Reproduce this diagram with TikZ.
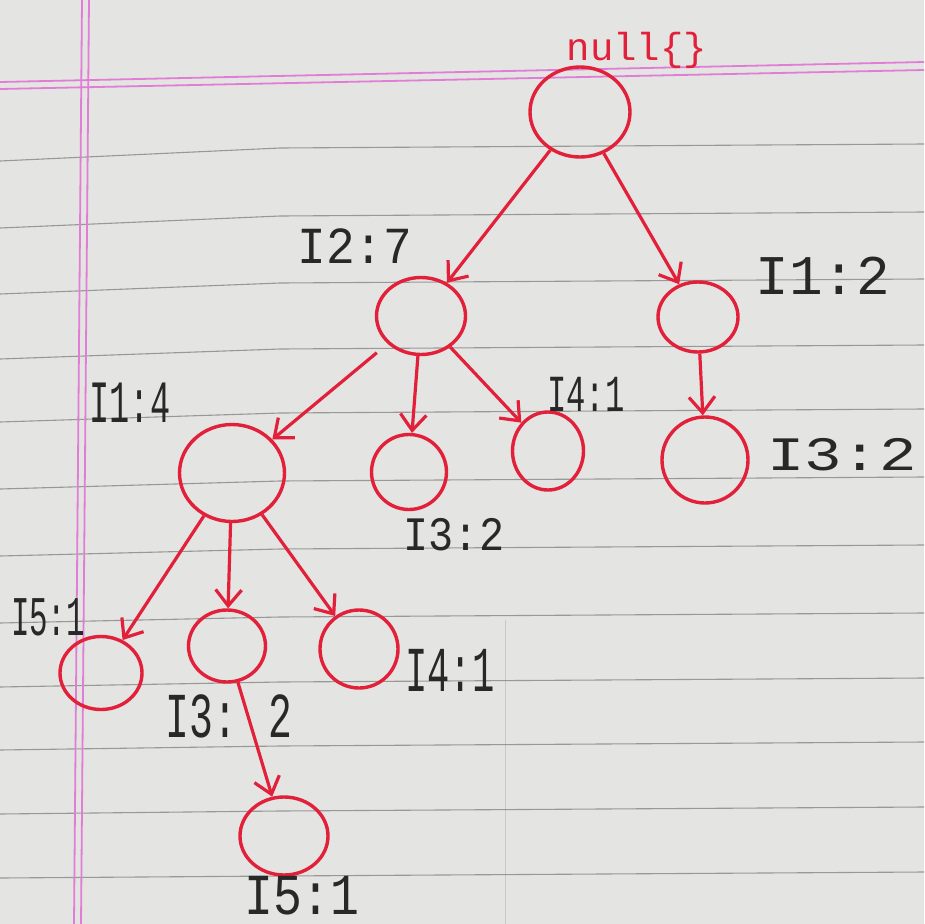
\documentclass[tikz,border=0pt]{standalone}
\usepackage{fontspec}
\newfontfamily\handfont{Liberation Mono}
\usetikzlibrary{shapes.geometric,arrows.meta}
\definecolor{paper}{RGB}{228,228,226}
\definecolor{ink}{RGB}{226,32,58}
\definecolor{pencil}{RGB}{40,40,40}
\definecolor{rulegray}{RGB}{120,120,120}
\definecolor{margin}{RGB}{226,125,215}
\newcommand\handscale[2]{\scalebox{#1}[1]{#2}}
\begin{document}
\begin{tikzpicture}[x=1pt,y=-1pt,
  tnode/.style={ellipse,draw=ink,line width=3.4pt,inner sep=0pt},
  edge/.style={draw=ink,line width=3.2pt,-{Straight Barb[length=16pt,width=26pt]}},
  lbl/.style={text=pencil,inner sep=0pt,font=\handfont\fontsize{#1}{#1}\selectfont},
  ruled/.style={draw=rulegray,line width=1.1pt,opacity=.7},
  pinkline/.style={draw=margin,line width=1.8pt}]
\useasboundingbox (0,0) rectangle (924,924);
\fill[paper] (0,0) rectangle (924,924);
% ruled lines
\foreach \y/\d in {147/14,215/13,282/12,348/11,412/10,480/9,548/8,616/7,681/6,745/5,810/4,875/3}
  \draw[ruled] (0,\y+\d) -- (280,\y+1) -- (924,\y-3);
\draw[draw=rulegray,line width=1pt,opacity=.25] (505,620) -- (505,924);
% margin lines
\draw[pinkline] (0,82) -- (924,62);
\draw[pinkline] (0,89) -- (924,70);
\draw[pinkline] (82,0) -- (74,924);
\draw[pinkline] (89,0) -- (81,924);
% tree nodes
\node[tnode,minimum width=100pt,minimum height=90pt] (root) at (580,112) {};
\node[tnode,minimum width=89pt,minimum height=77pt] (a27) at (421,316) {};
\node[tnode,minimum width=80pt,minimum height=70pt] (b12) at (698,317) {};
\node[tnode,minimum width=86pt,minimum height=86pt] (b32) at (705,460) {};
\node[tnode,minimum width=105pt,minimum height=97pt] (a14) at (232,473) {};
\node[tnode,minimum width=75pt,minimum height=75pt] (a32) at (409,472) {};
\node[tnode,minimum width=71pt,minimum height=78pt] (a41) at (548,451) {};
\node[tnode,minimum width=82pt,minimum height=73pt] (c51) at (101,673) {};
\node[tnode,minimum width=77pt,minimum height=72pt] (c32) at (227,646) {};
\node[tnode,minimum width=78pt,minimum height=78pt] (c41) at (359,649) {};
\node[tnode,minimum width=88pt,minimum height=78pt] (d51) at (284,836) {};
% labels
\node[lbl=39,text=ink] (lnull) at (637,50) {null\{\}};
\node[lbl=52] (l27) at (355,246) {\handscale{.92}{I2:7}};
\node[lbl=56] (l12) at (823,276) {I1:2};
\node[lbl=60] (l14) at (130,403) {\handscale{.56}{I1:4}};
\node[lbl=52] (la41) at (586,394) {\handscale{.62}{I4:1}};
\node[lbl=48] (lb32) at (842,455) {\handscale{1.3}{I3:2}};
\node[lbl=48] (la32) at (454,535) {\handscale{.87}{I3:2}};
\node[lbl=56] (lc51) at (48,617) {\handscale{.55}{I5:1}};
\node[lbl=64] (lc32) at (229,716) {\handscale{.62}{I3: 2}};
\node[lbl=64] (lc41) at (450,670) {\handscale{.58}{I4:1}};
\node[lbl=58] (ld51) at (302,896) {\handscale{.83}{I5:1}};
% connectors
\draw[edge] (root) -- (a27);
\draw[edge] (root) -- (b12);
\draw[edge,shorten <=14pt] (a27) -- (a14);
\draw[edge] (a27) -- (a32);
\draw[edge] (a27) -- (a41);
\draw[edge] (b12) -- (b32);
\draw[edge] (a14) -- (c51);
\draw[edge] (a14) -- (c32);
\draw[edge] (a14) -- (c41);
\draw[edge] (c32) -- (d51);
\end{tikzpicture}
\end{document}
